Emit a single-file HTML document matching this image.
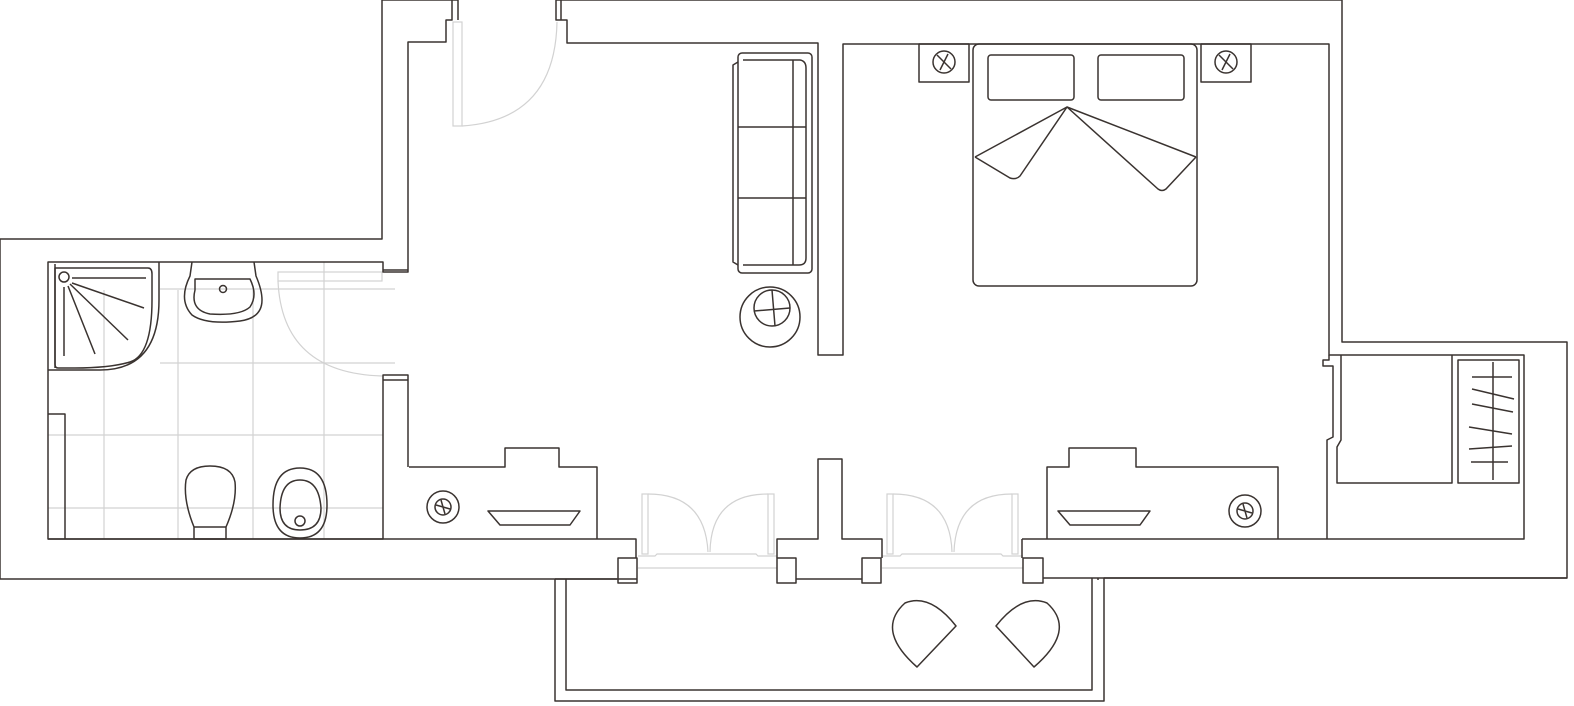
<!DOCTYPE html>
<html><head><meta charset="utf-8"><style>html,body{margin:0;padding:0;background:#fff}svg{display:block}</style></head>
<body>
<svg width="1574" height="706" viewBox="0 0 1574 706" xmlns="http://www.w3.org/2000/svg">
<g fill="none" stroke="#d2d2d2" stroke-width="1.2">
<!-- bathroom tiles -->
<line x1="104" y1="290" x2="104" y2="539"/><line x1="178" y1="290" x2="178" y2="539"/>
<line x1="253" y1="290" x2="253" y2="539"/><line x1="324" y1="262" x2="324" y2="539"/>
<line x1="160" y1="289" x2="395" y2="289"/><line x1="160" y1="363" x2="395" y2="363"/>
<line x1="48" y1="435" x2="383" y2="435"/><line x1="48" y1="508" x2="383" y2="508"/>
<!-- doors -->
<rect x="453" y="22" width="9" height="104"/><path d="M462 126 Q555 120 557 22"/>
<rect x="278" y="272" width="104" height="9"/><path d="M278 281 Q282 373 382 376"/>
<rect x="642" y="494" width="6" height="60"/><path d="M648 494 Q705 494 708 552"/>
<rect x="768" y="494" width="6" height="60"/><path d="M768 494 Q711 494 710 552"/>
<rect x="887" y="494" width="6" height="60"/><path d="M893 494 Q950 494 952 552"/>
<rect x="1012" y="494" width="6" height="60"/><path d="M1012 494 Q956 494 954 552"/>
<path d="M638 556 H655 L657 554 H756 L758 556 H777"/><line x1="638" y1="568" x2="777" y2="568"/>
<path d="M882 556 H900 L902 554 H1001 L1003 556 H1023"/><line x1="882" y1="568" x2="1023" y2="568"/>
</g>
<g fill="none" stroke="#3a3330" stroke-width="1.5" stroke-linejoin="round">
<!-- outer -->
<path d="M458 0 H452 V20 H446 V42 H408 V272 H383 V262 H48 V539 H383 V375 H408 V467"/>
<path d="M458 0 V20 M452 0 H382 V239 H0 V579 H617"/>
<path d="M383 270 H408 M383 380 H408"/>
<path d="M556 0 V20 H567 V43 H818 V355 H843 V44 H1329 V355 H1524 V539 H1022"/>
<path d="M561 0 V20 M556 0 H1342 V342 H1567 V578 H1104 V701 H555 V579"/>
<path d="M1098 578 V580 M1092 578 V690 H566 V579 M555 579 H617"/>
<path d="M1043 578 H1567"/>
<path d="M48 539 H636 V558 M48 414 H65 V539"/>
<rect x="618" y="558" width="19" height="25"/><rect x="777" y="558" width="19" height="25"/>
<rect x="862" y="558" width="19" height="25"/><rect x="1023" y="558" width="20" height="25"/>
<path d="M617 579 H637 M796 579 H862 M777 558 V539 H818 V459 H842 V539 H882 V558"/>
<path d="M1022 558 V539"/>
<path d="M1329 355 V360 H1323 V366 H1333 V437 L1327 440 V539 M1341 355 V440 L1337 447 V483 H1452 V355"/>
<rect x="1458" y="360" width="61" height="123"/>
<line x1="1493" y1="362" x2="1493" y2="480"/>
<path d="M1472 377 H1512 M1472 389 L1514 399 M1472 404 L1513 412 M1469 427 L1512 434 M1469 449 L1512 446 M1471 462 H1508"/>
<!-- sofa -->
<rect x="738" y="53" width="74" height="220" rx="4"/>
<path d="M743 60 H800 Q806 61 806 68 V258 Q806 265 799 265 H743 M738 62 L733 65 V262 L738 265 M738 127 H806 M738 198 H806 M793 60 V265"/>
<circle cx="770" cy="317" r="30"/><circle cx="772" cy="308" r="18"/>
<path d="M772 290 L775 326 M754 311 L790 308"/>
<!-- bed -->
<rect x="973" y="44" width="224" height="242" rx="6"/>
<rect x="988" y="55" width="86" height="45" rx="3"/><rect x="1098" y="55" width="86" height="45" rx="3"/>
<path d="M975 157 L1067 107 L1196 157 M975 157 L1010 178 Q1016 180 1020 176 L1067 107 L1158 189 Q1162 192 1166 189 L1196 157"/>
<rect x="919" y="44" width="50" height="38"/><circle cx="944" cy="62" r="11"/><path d="M937 55 L951 69 M940 70 L948 54"/>
<rect x="1201" y="44" width="50" height="38"/><circle cx="1226" cy="62" r="11"/><path d="M1219 55 L1233 69 M1222 70 L1230 54"/>
<!-- desks -->
<path d="M409 467 H505 V448 H559 V467 H597 V539"/>
<path d="M488 511 H580 L570 525 H500 Z"/>
<circle cx="443" cy="507" r="16"/><circle cx="443" cy="507" r="8"/><path d="M436 505 L450 509 M441 500 L445 514"/>
<path d="M1047 539 V467 H1069 V448 H1136 V467 H1278 V539"/>
<path d="M1058 511 H1150 L1140 525 H1070 Z"/>
<circle cx="1245" cy="511" r="16"/><circle cx="1245" cy="511" r="8"/><path d="M1238 509 L1252 513 M1243 504 L1247 518"/>
<!-- balcony chairs -->
<path d="M917 667 L956 626 Q930 593 905 603 Q875 630 917 667 Z"/>
<path d="M1034 667 L996 626 Q1022 593 1047 603 Q1077 630 1034 667 Z"/>
<!-- bathroom fixtures -->
<path d="M55 268 H148 Q152 268 152 274 V300 Q152 355 130 362 Q110 368 75 368 H58 Q55 368 55 364 Z"/>
<path d="M55 264 V368 M159 262 V300 Q159 370 100 370 H48"/>
<circle cx="64" cy="277" r="5"/>
<path d="M72 278 H146 M72 283 L144 308 M70 284 L128 340 M68 286 L95 354 M64 287 V356"/>
<path d="M192 262 L190 276 Q178 300 192 315 Q206 325 240 321 Q262 318 262 300 Q262 290 256 276 L254 262"/>
<path d="M195 279 H250 Q258 295 250 307 Q240 316 210 314 Q190 310 195 290 Z"/><circle cx="223" cy="289" r="3.5"/>
<path d="M194 527 Q183 500 186 480 Q190 466 210 466 Q232 466 235 482 Q237 502 226 527 Z M194 527 V539 H226 V527"/>
<path d="M300 468 Q273 468 273 505 Q273 538 300 538 Q327 538 327 505 Q327 468 300 468 Z"/>
<path d="M300 480 Q281 480 280 508 Q280 530 300 530 Q321 530 321 508 Q319 480 300 480 Z"/><circle cx="300" cy="521" r="5"/>
</g>
</svg>
</body></html>
